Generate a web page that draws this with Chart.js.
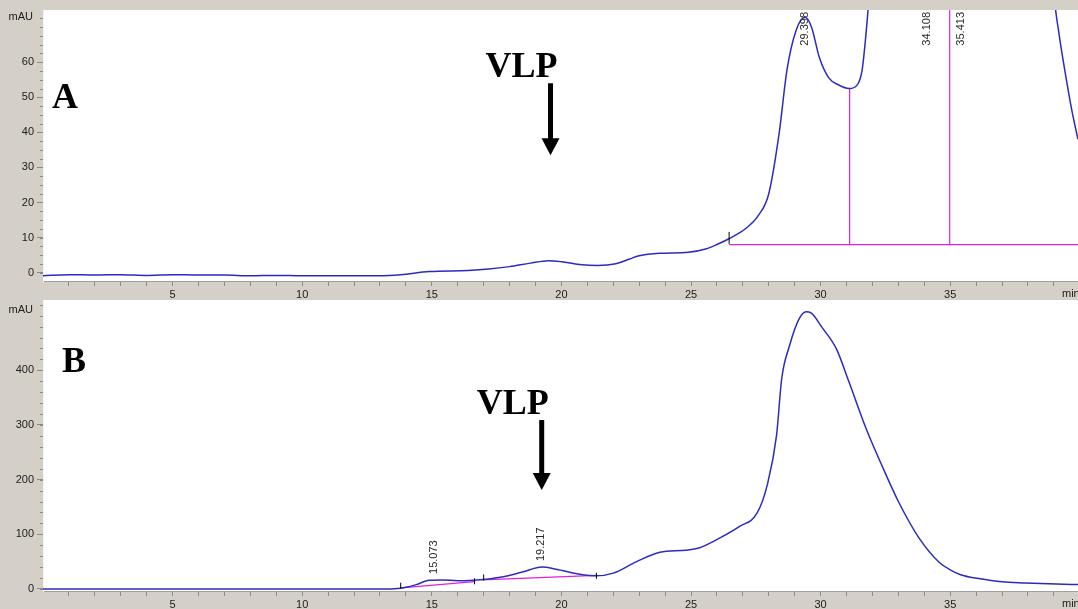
<!DOCTYPE html>
<html lang="en">
<head>
<meta charset="UTF-8">
<title>Chromatograms A / B</title>
<script src="https://cdn.jsdelivr.net/npm/chart.js"></script>
<style>
  body { margin: 0; background: #d4d0c8; }
  canvas { display: block; }
</style>
</head>
<body>
<canvas id="chartA" width="1078" height="299"></canvas>
<canvas id="chartB" width="1078" height="310"></canvas>
<script>
// ---- panel A signal (min, mAU) ----
const timeA = [0, 1, 2, 3, 4, 5, 6, 7, 8, 9, 10, 11, 12, 13, 13.8, 14.9, 16.4, 17.2, 18.0, 18.8,
  19.5, 20.0, 20.7, 21.4, 22.1, 22.6, 23.0, 23.8, 24.9, 25.6, 26.0, 26.5, 27.1, 27.6, 28.0, 28.4,
  28.7, 29.05, 29.4, 29.65, 29.95, 30.3, 30.7, 31.1, 31.4, 31.6, 31.75, 31.9, 32.2, 33.0, 34.1,
  35.0, 35.4, 37.0, 38.5, 39.0, 39.2, 39.46, 39.7, 39.93];
const signalA = [-0.9, -0.6, -0.7, -0.6, -0.8, -0.6, -0.7, -0.7, -0.9, -0.8, -0.9, -0.9, -0.9, -0.9,
  -0.6, 0.3, 0.6, 1.0, 1.7, 2.7, 3.4, 3.1, 2.3, 2.0, 2.5, 3.8, 4.8, 5.5, 5.8, 6.8, 8.0, 9.8, 12.5,
  16.3, 22.5, 39.7, 57.7, 69, 72.8, 70, 61.4, 55.7, 53.5, 52.5, 53.4, 57.7, 68, 82, 120, 200, 260,
  220, 240, 200, 150, 80, 68, 56, 46, 38];

// ---- panel B signal ----
const timeB = [0, 13.0, 13.7, 14.0, 14.4, 14.9, 15.4, 16.0, 16.6, 17.1, 17.7, 18.5, 19.25, 19.8,
  20.7, 21.35, 22.0, 22.9, 23.8, 24.8, 25.3, 26.1, 26.86, 27.55, 27.94, 28.3, 28.5, 28.8, 29.17,
  29.44, 29.63, 30.06, 30.6, 31.1, 31.75, 32.4, 33.0, 33.8, 34.57, 35.0, 35.4, 36.1, 37.0, 37.9,
  39.1, 39.93];
const signalB = [0, 0, 1, 3, 8, 16, 16.5, 15, 16, 18, 22, 31, 40, 36, 27, 24, 29, 50, 67, 71, 75,
  93, 114, 139, 190, 281, 385, 445, 494, 507, 505, 478, 440, 378, 294, 222, 160, 93, 49, 35, 26,
  19, 13, 11, 9, 8];

// ---- integration baselines and drop lines (magenta) ----
const baseTimeA = [26.47, 39.93];
const baseValueA = [8, 8];
const dropTimeA = [31.12, 34.98];
const dropTopA = [52.5, 200];
const baseTimeB = [13.8, 16.65, 16.8, 16.95, 21.35];
const baseValueB = [2, 13.5, null, 16.5, 25];

// ---- small black integration marks ----
const markTimeA = [26.47];
const markValueA = [9.9];
const markTimeB = [13.8, 16.65, 17.0, 21.35];
const markValueB = [6, 14, 21, 24];

// ---- peak retention-time labels ----
const peakTimeA = [29.398, 34.108, 35.413];
const peakTimeB = [15.073, 19.217];
const peakValueB = [16.5, 40];

// ---- tick labels ----
const xLabels = [5, 10, 15, 20, 25, 30, 35];
const yLabelsA = [0, 10, 20, 30, 40, 50, 60];
const yLabelsB = [0, 100, 200, 300, 400];

const pts = (ts, vs) => ts.map((t, i) => ({ x: t, y: vs[i] }));
const FONT = '"Liberation Sans", Arial, sans-serif';

const extras = {
  id: 'extras',
  beforeDraw(chart) {
    const { ctx, chartArea: a } = chart;
    ctx.save();
    ctx.fillStyle = '#ffffff';
    ctx.fillRect(a.left, a.top, a.right - a.left, a.bottom - a.top);
    ctx.restore();
  },
  afterDraw(chart, args, o) {
    const { ctx, chartArea: a, scales: { x, y } } = chart;
    ctx.save();
    // short minor ticks on the y axis
    ctx.strokeStyle = '#8a8a8a';
    ctx.lineWidth = 1;
    y.ticks.forEach(t => {
      const py = Math.round(y.getPixelForValue(t.value)) + 0.5;
      ctx.beginPath();
      ctx.moveTo(a.left - 3, py);
      ctx.lineTo(a.left, py);
      ctx.stroke();
    });
    // retention times, rotated
    ctx.font = '11px ' + FONT;
    ctx.fillStyle = '#2a2a2a';
    ctx.textBaseline = 'middle';
    o.peaks.forEach((t, i) => {
      ctx.save();
      const px = x.getPixelForValue(t);
      if (o.peakAt) {
        ctx.translate(px, y.getPixelForValue(o.peakAt[i]) - 6);
        ctx.rotate(-Math.PI / 2);
        ctx.textAlign = 'left';
      } else {
        ctx.translate(px, a.top + 2);
        ctx.rotate(-Math.PI / 2);
        ctx.textAlign = 'right';
      }
      ctx.fillText(t.toFixed(3), 0, 0);
      ctx.restore();
    });
    // axis units
    ctx.fillStyle = '#202020';
    ctx.textAlign = 'right';
    ctx.fillText('mAU', a.left - 10, a.top + o.unitDy);
    ctx.textAlign = 'left';
    ctx.fillText('min', a.right - 16, a.bottom + 13);
    // VLP arrow
    const ax = x.getPixelForValue(o.vlp.t);
    const top = y.getPixelForValue(o.vlp.top);
    const tip = y.getPixelForValue(o.vlp.tip);
    ctx.fillStyle = '#000';
    ctx.fillRect(ax - 2.5, top, 5, tip - top - 16);
    ctx.beginPath();
    ctx.moveTo(ax - 9, tip - 17);
    ctx.lineTo(ax + 9, tip - 17);
    ctx.lineTo(ax, tip);
    ctx.closePath();
    ctx.fill();
    ctx.font = 'bold 36px "Liberation Serif", "Times New Roman", serif';
    ctx.textAlign = 'center';
    ctx.textBaseline = 'alphabetic';
    ctx.fillText('VLP', ax - 29, top - 6);
    // panel letter
    ctx.textAlign = 'left';
    ctx.fillText(o.letter, a.left + o.letterDx, a.top + o.letterDy);
    ctx.restore();
  }
};

function makeChart(id, cfg) {
  const tickFont = { family: FONT, size: 11 };
  new Chart(document.getElementById(id), {
    type: 'line',
    data: {
      datasets: [
        {
          data: cfg.marks, showLine: false, pointStyle: 'line', pointRotation: 90,
          pointRadius: cfg.markSize, pointBorderColor: '#000', pointBorderWidth: 1
        },
        {
          data: cfg.signal, borderColor: '#2b2bc4', borderWidth: 1.5, pointRadius: 0,
          cubicInterpolationMode: 'monotone'
        },
        ...cfg.magenta.map(d => ({
          data: d, borderColor: '#e020e0', borderWidth: 1.2, pointRadius: 0, spanGaps: false
        }))
      ]
    },
    options: {
      responsive: false,
      animation: false,
      events: [],
      layout: { autoPadding: false, padding: { top: cfg.padTop, left: 0, right: 0, bottom: 0 } },
      plugins: {
        legend: { display: false },
        tooltip: { enabled: false },
        extras: cfg.extras
      },
      scales: {
        x: {
          type: 'linear', min: 0, max: 39.93,
          afterFit: s => { s.height = 18; s.paddingLeft = 0; s.paddingRight = 0; },
          afterBuildTicks: s => {
            const t = [];
            for (let k = 1; k < 40; k++) t.push({ value: k });
            s.ticks = t;
          },
          ticks: {
            autoSkip: false, maxRotation: 0, padding: 2, color: '#202020', font: tickFont,
            callback: v => xLabels.includes(v) ? String(v) : ''
          },
          grid: { drawOnChartArea: false, tickLength: 5, color: '#8a8a8a' },
          border: { color: '#a0a0a0' }
        },
        y: {
          min: cfg.yMin, max: cfg.yMax,
          afterFit: s => { s.width = 43; s.paddingTop = 0; s.paddingBottom = 0; },
          afterBuildTicks: s => {
            const t = [];
            for (let k = 0; k * cfg.yStep <= cfg.yMax; k++) t.push({ value: k * cfg.yStep });
            s.ticks = t;
          },
          ticks: {
            autoSkip: false, padding: 3, color: '#202020', font: tickFont,
            callback: v => cfg.yLabels.includes(v) ? String(v) : ''
          },
          grid: {
            drawOnChartArea: false, tickLength: 6,
            color: c => (c.tick && cfg.yLabels.includes(c.tick.value)) ? '#8a8a8a' : 'rgba(0,0,0,0)'
          },
          border: { color: '#f4f4f4' }
        }
      }
    },
    plugins: [extras]
  });
}

makeChart('chartA', {
  padTop: 10, yMin: -2.4, yMax: 74.9, yStep: 2.5, yLabels: yLabelsA,
  signal: pts(timeA, signalA),
  marks: pts(markTimeA, markValueA), markSize: 6,
  magenta: [
    pts(baseTimeA, baseValueA),
    ...dropTimeA.map((t, i) => pts([t, t], [baseValueA[0], dropTopA[i]]))
  ],
  extras: {
    peaks: peakTimeA, peakAt: null, unitDy: 7,
    vlp: { t: 19.58, top: 54, tip: 33.5 },
    letter: 'A', letterDx: 9, letterDy: 98
  }
});

makeChart('chartB', {
  padTop: 1, yMin: -3.7, yMax: 528.6, yStep: 20, yLabels: yLabelsB,
  signal: pts(timeB, signalB),
  marks: pts(markTimeB, markValueB), markSize: 3,
  magenta: [pts(baseTimeB, baseValueB)],
  extras: {
    peaks: peakTimeB, peakAt: peakValueB, unitDy: 10,
    vlp: { t: 19.24, top: 309, tip: 181 },
    letter: 'B', letterDx: 19, letterDy: 72
  }
});
</script>
</body>
</html>
